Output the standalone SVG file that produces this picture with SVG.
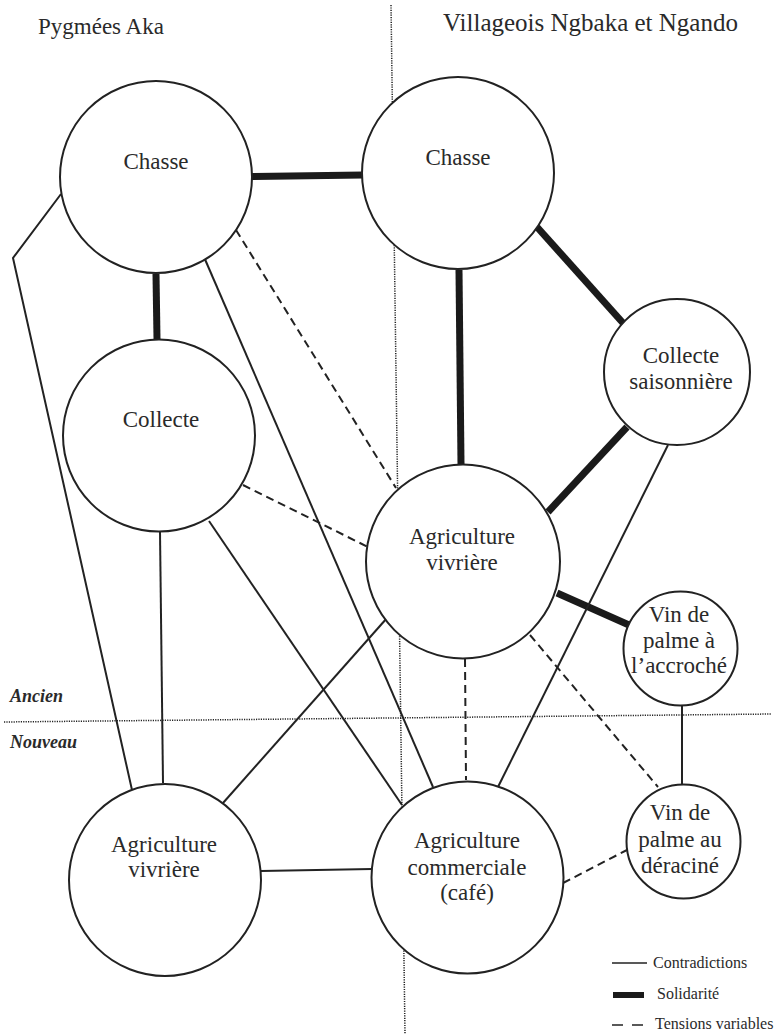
<svg xmlns="http://www.w3.org/2000/svg" width="779" height="1034" viewBox="0 0 779 1034">
<style>
  .node { fill: #fff; stroke: #222; stroke-width: 2; }
  .lbl { font-family: "Liberation Serif", "DejaVu Serif", serif; font-size: 23px; fill: #2a2a2a; text-anchor: middle; }
  .title { font-family: "Liberation Serif", "DejaVu Serif", serif; font-size: 23px; fill: #2a2a2a; }
  .era { font-family: "Liberation Serif", "DejaVu Serif", serif; font-size: 18px; font-weight: bold; font-style: italic; fill: #2a2a2a; }
  .leg { font-family: "Liberation Serif", "DejaVu Serif", serif; font-size: 16px; fill: #2a2a2a; }
  .sol { stroke: #1a1a1a; stroke-width: 7; fill: none; }
  .con { stroke: #222; stroke-width: 2; fill: none; }
  .ten { stroke: #222; stroke-width: 2; fill: none; stroke-dasharray: 8 5; }
  .dot { stroke: #222; stroke-width: 1.5; fill: none; stroke-dasharray: 1.2 1.2; }
  .legline { stroke: #222; stroke-width: 1.5; fill: none; }
  .legbar { stroke: #1a1a1a; stroke-width: 6; fill: none; }
</style>
<rect width="779" height="1034" fill="#fff"/>
<g id="dividers">
  <line class="dot" x1="391" y1="5" x2="405" y2="1034"/>
  <line class="dot" x1="4" y1="722" x2="772" y2="714"/>
</g>
<g id="headings">
  <text class="title" x="38" y="34">Pygmées Aka</text>
  <text class="title" x="443" y="31" style="font-size:25px">Villageois Ngbaka et Ngando</text>
  <text class="era" x="10" y="702">Ancien</text>
  <text class="era" x="10" y="748">Nouveau</text>
</g>
<g id="connectors">
  <line class="sol" x1="252" y1="176.5" x2="363" y2="175"/>
  <line class="sol" x1="156" y1="274" x2="157" y2="339"/>
  <line class="sol" x1="537" y1="227" x2="623" y2="323"/>
  <line class="sol" x1="459" y1="270" x2="461" y2="464"/>
  <line class="sol" x1="627" y1="427" x2="548" y2="512"/>
  <line class="sol" x1="557" y1="593" x2="629" y2="625"/>
  <polyline class="con" points="61,194 13,258 132,790"/>
  <line class="con" x1="204" y1="257" x2="433" y2="787"/>
  <line class="con" x1="160" y1="532" x2="163" y2="783"/>
  <line class="con" x1="209" y1="521" x2="402" y2="805"/>
  <line class="con" x1="387" y1="618" x2="223" y2="803"/>
  <line class="con" x1="261" y1="871" x2="372" y2="869"/>
  <line class="con" x1="668" y1="445" x2="498" y2="787"/>
  <line class="con" x1="682" y1="705" x2="682" y2="785"/>
  <line class="ten" x1="236" y1="230" x2="396" y2="488"/>
  <line class="ten" x1="243" y1="485" x2="368" y2="547"/>
  <line class="ten" x1="465" y1="659" x2="466" y2="780"/>
  <line class="ten" x1="530" y1="635" x2="658" y2="787"/>
  <line class="ten" x1="563" y1="883" x2="627" y2="850"/>
</g>
<g id="aka-chasse">
  <circle class="node" cx="156" cy="177" r="96"/>
  <text class="lbl" x="156" y="169">Chasse</text>
</g>
<g id="aka-collecte">
  <circle class="node" cx="159" cy="435.5" r="96"/>
  <text class="lbl" x="161" y="427">Collecte</text>
</g>
<g id="aka-agriculture">
  <circle class="node" cx="165" cy="880" r="96"/>
  <text class="lbl" x="164" y="852">Agriculture</text>
  <text class="lbl" x="164" y="877">vivrière</text>
</g>
<g id="vil-chasse">
  <circle class="node" cx="458" cy="173" r="96"/>
  <text class="lbl" x="458" y="165">Chasse</text>
</g>
<g id="vil-collecte">
  <circle class="node" cx="677" cy="372" r="73"/>
  <text class="lbl" x="681" y="363">Collecte</text>
  <text class="lbl" x="681" y="389">saisonnière</text>
</g>
<g id="vil-agriculture">
  <circle class="node" cx="463" cy="561.5" r="97"/>
  <text class="lbl" x="462" y="544">Agriculture</text>
  <text class="lbl" x="462" y="570">vivrière</text>
</g>
<g id="vin-accroche">
  <circle class="node" cx="680.5" cy="648.5" r="57"/>
  <text class="lbl" x="679" y="622">Vin de</text>
  <text class="lbl" x="679" y="648">palme à</text>
  <text class="lbl" x="679" y="673">l’accroché</text>
</g>
<g id="agri-commerciale">
  <circle class="node" cx="467.5" cy="877.5" r="96"/>
  <text class="lbl" x="467" y="848">Agriculture</text>
  <text class="lbl" x="467" y="875">commerciale</text>
  <text class="lbl" x="467" y="900">(café)</text>
</g>
<g id="vin-deracine">
  <circle class="node" cx="683.5" cy="841.5" r="57"/>
  <text class="lbl" x="680" y="820">Vin de</text>
  <text class="lbl" x="680" y="847">palme au</text>
  <text class="lbl" x="680" y="873">déraciné</text>
</g>
<g id="legend">
  <line class="legline" x1="612" y1="963" x2="647" y2="963"/>
  <text class="leg" x="653" y="968">Contradictions</text>
  <line class="legbar" x1="613" y1="995" x2="644" y2="995"/>
  <text class="leg" x="657" y="999">Solidarité</text>
  <line class="legline" x1="612" y1="1025" x2="623" y2="1025"/>
  <line class="legline" x1="632" y1="1025" x2="643" y2="1025"/>
  <text class="leg" x="655" y="1029">Tensions variables</text>
</g>
</svg>
